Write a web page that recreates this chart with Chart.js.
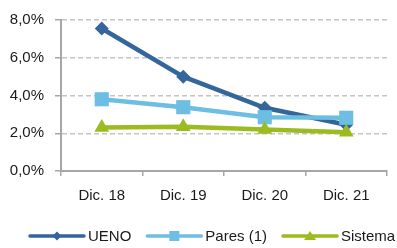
<!DOCTYPE html>
<html>
<head>
<meta charset="utf-8">
<script src="https://cdn.jsdelivr.net/npm/chart.js@4/dist/chart.umd.min.js"></script>
<style>
  html, body { margin: 0; padding: 0; background: #fff; overflow: hidden; }
  #wrap { width: 397px; height: 248px; }
</style>
</head>
<body>
<div id="wrap"><canvas id="chart" width="397" height="248"></canvas></div>
<script>
'use strict';

const categories = ['Dic. 18', 'Dic. 19', 'Dic. 20', 'Dic. 21'];
const uenoValues = [7.55, 5.0, 3.35, 2.45];
const paresValues = [3.8, 3.38, 2.85, 2.82];
const sistemaValues = [2.3, 2.35, 2.2, 2.05];
const seriesLabels = ['UENO', 'Pares (1)', 'Sistema'];
const yStep = 2;

const FONT = '"Liberation Sans", Arial, sans-serif';

// Legend drawn by hand: line with marker in the middle, like the spreadsheet original.
const lineLegend = {
  id: 'lineLegend',
  afterDraw(chart) {
    const ctx = chart.ctx;
    const y = 236;
    let x = 30;
    ctx.save();
    ctx.font = '15px ' + FONT;
    ctx.textBaseline = 'middle';
    chart.data.datasets.forEach((ds) => {
      const len = 54;
      ctx.strokeStyle = ds.borderColor;
      ctx.lineWidth = 3.5;
      ctx.lineCap = 'round';
      ctx.beginPath();
      ctx.moveTo(x, y);
      ctx.lineTo(x + len, y);
      ctx.stroke();
      const cx = x + len / 2;
      ctx.fillStyle = ds.borderColor;
      ctx.beginPath();
      if (ds.pointStyle === 'rectRot') {
        ctx.moveTo(cx, y - 4.5);
        ctx.lineTo(cx + 4.5, y);
        ctx.lineTo(cx, y + 4.5);
        ctx.lineTo(cx - 4.5, y);
      } else if (ds.pointStyle === 'rect') {
        ctx.rect(cx - 5, y - 5, 10, 10);
      } else {
        ctx.moveTo(cx, y - 5);
        ctx.lineTo(cx + 6, y + 4);
        ctx.lineTo(cx - 6, y + 4);
      }
      ctx.closePath();
      ctx.fill();
      ctx.fillStyle = '#1a1a1a';
      ctx.fillText(ds.label, x + len + 4, y + 1);
      x += len + 4 + ctx.measureText(ds.label).width + 16;
    });
    ctx.restore();
  }
};

new Chart(document.getElementById('chart'), {
  type: 'line',
  data: {
    labels: categories,
    datasets: [
      {
        label: seriesLabels[0],
        data: uenoValues,
        borderColor: '#33669a',
        backgroundColor: '#33669a',
        borderWidth: 4.5,
        pointStyle: 'rectRot',
        pointRadius: 7,
        pointBorderWidth: 0,
        order: 3,
      },
      {
        label: seriesLabels[1],
        data: paresValues,
        borderColor: '#6cbfe2',
        backgroundColor: '#6cbfe2',
        borderWidth: 4.5,
        pointStyle: 'rect',
        pointRadius: 10,
        pointBorderWidth: 0,
        order: 2,
      },
      {
        label: seriesLabels[2],
        data: sistemaValues,
        borderColor: '#9bbb20',
        backgroundColor: '#9bbb20',
        borderWidth: 4.5,
        pointStyle: 'triangle',
        pointRadius: 8.5,
        pointBorderWidth: 0,
        order: 1,
      },
    ],
  },
  options: {
    responsive: false,
    animation: false,
    devicePixelRatio: 1,
    layout: { padding: { top: 19, left: 0, right: 0, bottom: 0 } },
    elements: { line: { tension: 0 } },
    plugins: {
      legend: { display: false },
      tooltip: { enabled: false },
    },
    scales: {
      x: {
        offset: true,
        grid: {
          offset: true,
          drawOnChartArea: false,
          drawTicks: true,
          tickLength: 5,
          color: '#a6a6a6',
          lineWidth: 1.5,
        },
        border: { color: '#a6a6a6', width: 2 },
        ticks: {
          color: '#1a1a1a',
          font: { family: FONT, size: 15 },
          padding: 11,
        },
        afterFit: (scale) => { scale.height = 77; },
      },
      y: {
        min: 0,
        max: 8,
        grid: {
          color: '#c4c4c4',
          lineWidth: 1.5,
          tickColor: '#a6a6a6',
          tickWidth: 1.5,
          tickLength: 6,
        },
        border: { color: '#a6a6a6', width: 2, dash: [5, 3] },
        ticks: {
          stepSize: yStep,
          color: '#1a1a1a',
          font: { family: FONT, size: 15 },
          padding: 11,
          callback: (v) => v.toFixed(1).replace('.', ',') + '%',
        },
        afterFit: (scale) => { scale.width = 61; },
      },
    },
  },
  plugins: [lineLegend],
});
</script>
</body>
</html>
